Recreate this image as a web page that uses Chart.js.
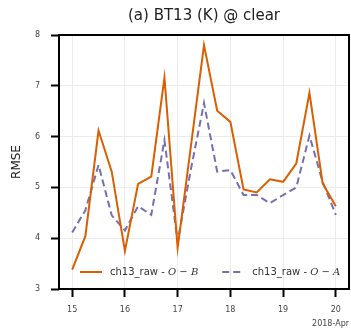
<!DOCTYPE html>
<html>
<head>
<meta charset="UTF-8">
<title>BT13 RMSE</title>
<script src="https://cdn.jsdelivr.net/npm/chart.js"></script>
<style>
    html, body { margin: 0; padding: 0; background: #fff; }
    #box { width: 351px; height: 329px; }
</style>
</head>
<body>
<div id="box"><canvas id="grafico"></canvas></div>

<script>
    // dias de abril (passo de 6 h)
    const dias = [15, 15.25, 15.5, 15.75, 16, 16.25, 16.5, 16.75, 17, 17.25, 17.5,
                  17.75, 18, 18.25, 18.5, 18.75, 19, 19.25, 19.5, 19.75, 20];

    // RMSE O-B e O-A do canal 13
    const rmseOB = [3.38, 4.04, 6.12, 5.31, 3.75, 5.07, 5.21, 7.16, 3.81, 5.8, 7.8,
                    6.51, 6.29, 4.96, 4.9, 5.16, 5.11, 5.47, 6.86, 5.08, 4.63];
    const rmseOA = [4.11, 4.55, 5.44, 4.45, 4.15, 4.63, 4.46, 5.93, 3.93, 5.35, 6.66,
                    5.31, 5.34, 4.85, 4.85, 4.69, 4.85, 5.0, 6.02, 5.11, 4.46];

    const xTicks = [15, 16, 17, 18, 19, 20];
    const yTicks = [3, 4, 5, 6, 7, 8];

    const nomes = ['ch13_raw - ', 'ch13_raw - '];
    const nomesMat = ['O \u2212 B', 'O \u2212 A'];

    const fonte = 'DejaVu Sans';

    // moldura completa em volta da área do gráfico
    const moldura = {
        id: 'moldura',
        afterDraw(chart) {
            const a = chart.chartArea;
            const ctx = chart.ctx;
            ctx.save();
            ctx.strokeStyle = '#000';
            ctx.lineWidth = 2;
            ctx.strokeRect(a.left, a.top, a.right - a.left, a.bottom - a.top);
            ctx.restore();
        }
    };

    // legenda dentro do gráfico, com a parte "matemática" em itálico
    const legendaInterna = {
        id: 'legendaInterna',
        afterDatasetsDraw(chart) {
            const a = chart.chartArea;
            const ctx = chart.ctx;
            const y = a.bottom - 17;
            let x = a.left + 21;
            ctx.save();
            chart.data.datasets.forEach(function (ds, i) {
                ctx.strokeStyle = ds.borderColor;
                ctx.lineWidth = 2;
                ctx.setLineDash(ds.borderDash || []);
                ctx.beginPath();
                ctx.moveTo(x, y);
                ctx.lineTo(x + 22, y);
                ctx.stroke();
                ctx.setLineDash([]);
                x += 30;

                ctx.fillStyle = '#333';
                ctx.textBaseline = 'middle';
                ctx.font = '10px "' + fonte + '"';
                ctx.fillText(nomes[i], x, y);
                x += ctx.measureText(nomes[i]).width;
                ctx.font = 'italic 10px "DejaVu Serif"';
                ctx.fillText(nomesMat[i], x, y);
                x += ctx.measureText(nomesMat[i]).width + 24;
            });
            ctx.restore();
        }
    };

    const dados = {
        datasets: [{
            label: 'O-B',
            data: dias.map((d, i) => ({ x: d, y: rmseOB[i] })),
            borderColor: '#d95f02',
            borderWidth: 2,
            pointRadius: 0,
            tension: 0
        },
        {
            label: 'O-A',
            data: dias.map((d, i) => ({ x: d, y: rmseOA[i] })),
            borderColor: '#7570b3',
            borderWidth: 2,
            borderDash: [7, 4],
            pointRadius: 0,
            tension: 0
        }]
    };

    const config = {
        type: 'line',
        data: dados,
        options: {
            animation: false,
            responsive: true,
            maintainAspectRatio: false,
            devicePixelRatio: 1,
            layout: { padding: { left: 0, right: 2, top: 0, bottom: 0 } },
            plugins: {
                legend: { display: false },
                tooltip: { enabled: false },
                title: {
                    display: true,
                    fullSize: false,
                    text: '(a) BT13 (K) @ clear',
                    color: '#222',
                    font: { family: fonte, size: 15, weight: 'normal' },
                    padding: { top: 7, bottom: 10 }
                }
            },
            scales: {
                x: {
                    type: 'linear',
                    min: 14.75,
                    max: 20.25,
                    afterBuildTicks: (eixo) => { eixo.ticks = xTicks.map(v => ({ value: v })); },
                    afterFit: (eixo) => { eixo.height = 40; },
                    border: { display: false },
                    grid: {
                        color: '#ececec',
                        lineWidth: 1,
                        drawTicks: true,
                        tickLength: 8,
                        tickColor: '#000',
                        tickWidth: 2
                    },
                    ticks: {
                        color: '#444',
                        padding: 8,
                        maxRotation: 0,
                        font: { family: fonte, size: 8 }
                    },
                    title: {
                        display: true,
                        text: '2018-Apr',
                        align: 'end',
                        color: '#444',
                        font: { family: fonte, size: 8 },
                        padding: { top: 0, bottom: 0 }
                    }
                },
                y: {
                    min: 3,
                    max: 8,
                    afterBuildTicks: (eixo) => { eixo.ticks = yTicks.map(v => ({ value: v })); },
                    afterFit: (eixo) => { eixo.width = 59; },
                    border: { display: false },
                    grid: {
                        color: '#ececec',
                        lineWidth: 1,
                        drawTicks: true,
                        tickLength: 8,
                        tickColor: '#000',
                        tickWidth: 2
                    },
                    ticks: {
                        color: '#444',
                        padding: 11,
                        font: { family: fonte, size: 8 }
                    },
                    title: {
                        display: true,
                        text: 'RMSE',
                        color: '#222',
                        font: { family: fonte, size: 12 },
                        padding: { top: 10, bottom: 0 }
                    }
                }
            }
        },
        plugins: [moldura, legendaInterna]
    };

    let myChart = new Chart(document.getElementById('grafico'), config);
</script>
</body>
</html>
